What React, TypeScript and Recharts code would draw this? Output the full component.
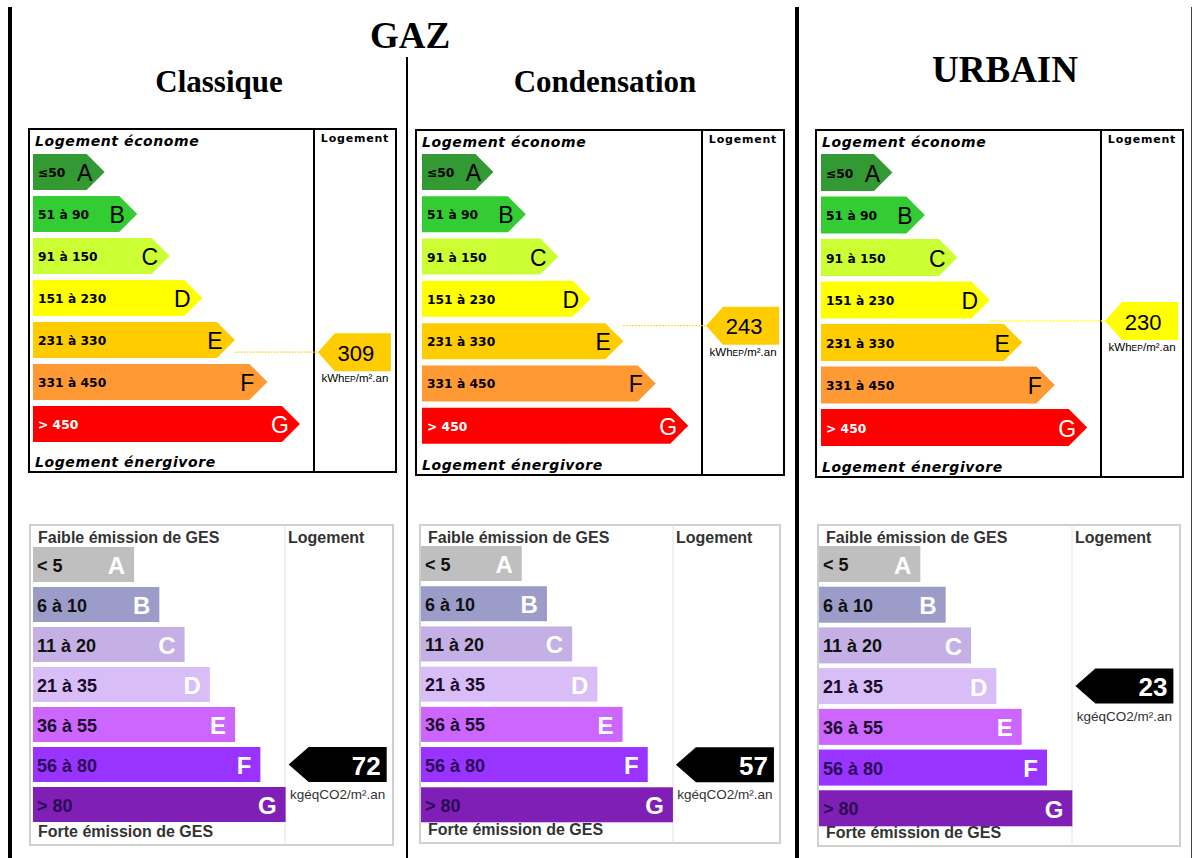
import React from 'react';
import { BarChart, Bar, XAxis, YAxis, ReferenceArea } from 'recharts';

// classes, ranges, values
const CLASSES = ['A', 'B', 'C', 'D', 'E', 'F', 'G'];
const RANKS = [1, 2, 3, 4, 5, 6, 7];
const DPE_RANGES = ['≤50', '51 à 90', '91 à 150', '151 à 230', '231 à 330', '331 à 450', '> 450'];
const DPE_UPPER = [50, 90, 150, 230, 330, 450, 600];
const GES_RANGES = ['< 5', '6 à 10', '11 à 20', '21 à 35', '36 à 55', '56 à 80', '> 80'];
const GES_UPPER = [5, 10, 20, 35, 55, 80, 120];

const GROUP_TITLE = 'GAZ';
const TITLES = ['Classique', 'Condensation', 'URBAIN'];
const DPE_VALUES = [309, 243, 230];
const GES_VALUES = [72, 57, 23];

const DPE_COLORS = ['#339933', '#33cc33', '#ccff33', '#ffff00', '#ffcc00', '#ff9933', '#ff0000'];
const GES_COLORS = ['#bfbfbf', '#9c9cc9', '#c4b0e4', '#d8bdf6', '#cc66ff', '#9933ff', '#7f1fb5'];
const GES_INK = ['#111', '#111', '#111', '#1a0a2a', '#1a0a2a', '#2a0a55', '#2a0a55'];

// axis units: x domains chosen so the arrows step like the original labels
const DPE_X: [number, number] = [-1.2, 9.95];
const GES_X: [number, number] = [-3, 11.25];
const DPE_MARKER_X = 7.55;
const GES_MARKER_X = 7.12;

const DPE_BOX = [
  { left: 29, top: 129, width: 367, height: 343, divider: 285, mTop: 22, mBottom: 27, mLeft: 4 },
  { left: 416, top: 130, width: 368, height: 345, divider: 286, mTop: 21, mBottom: 28, mLeft: 6 },
  { left: 816, top: 130, width: 367, height: 347, divider: 285, mTop: 21, mBottom: 28.5, mLeft: 5 },
];
const GES_BOX = [
  { left: 30, top: 525, width: 363, height: 320, divider: 255, mTop: 19.5, mBottom: 20.5, mLeft: 3 },
  { left: 420, top: 525, width: 360, height: 318, divider: 253, mTop: 18.5, mBottom: 18, mLeft: 1 },
  { left: 818, top: 525, width: 362, height: 321, divider: 254, mTop: 18.5, mBottom: 17.5, mLeft: 1 },
];

const SANS = '"Liberation Sans", Arial, sans-serif';
const VERD = '"DejaVu Sans", Verdana, sans-serif';
const SERIF = '"Liberation Serif", "Times New Roman", serif';

const dpeRows = CLASSES.map((cls, i) => ({ cls, rank: RANKS[i] }));
const gesRows = CLASSES.map((cls, i) => ({ cls, rank: RANKS[i] }));

function classIndex(v: number, upper: number[]) {
  const i = upper.findIndex(u => v <= u);
  return i < 0 ? upper.length - 1 : i;
}

// where the value sits inside its class band (0 = top, 1 = bottom)
function dpeFrac(v: number) {
  const i = classIndex(v, DPE_UPPER);
  const lo = i === 0 ? 0 : DPE_UPPER[i - 1];
  return (v - lo) / (DPE_UPPER[i] - lo);
}

function rowIndex(props: any) {
  const cls = props.payload?.cls ?? props.cls;
  const i = CLASSES.indexOf(cls);
  return i >= 0 ? i : props.index ?? 0;
}

function DpeArrow(props: any) {
  const { x, y, width, height } = props;
  const i = rowIndex(props);
  const tip = height / 2;
  const cy = y + height / 2;
  const ink = i === 6 ? '#fff' : '#000';
  return (
    <g>
      <polygon
        points={`${x},${y} ${x + width - tip},${y} ${x + width},${cy} ${x + width - tip},${y + height} ${x},${y + height}`}
        fill={DPE_COLORS[i]}
      />
      <text x={x + 5} y={cy + 1} dominantBaseline="central" fontFamily={VERD} fontWeight="bold" fontSize={12.3} fill={ink}>
        {DPE_RANGES[i]}
      </text>
      <text x={x + width - 20} y={cy + 1} dominantBaseline="central" textAnchor="middle" fontFamily={SANS} fontSize={23} fill={ink}>
        {CLASSES[i]}
      </text>
    </g>
  );
}

function GesBar(props: any) {
  const { x, y, width, height } = props;
  const i = rowIndex(props);
  const cy = y + height / 2;
  return (
    <g>
      <rect x={x} y={y} width={width} height={height} fill={GES_COLORS[i]} />
      <text x={x + 4} y={cy + 1} dominantBaseline="central" fontFamily={SANS} fontWeight="bold" fontSize={18} fill={GES_INK[i]}>
        {GES_RANGES[i]}
      </text>
      <text x={x + width - 9} y={cy + 1} dominantBaseline="central" textAnchor="end" fontFamily={SANS} fontWeight="bold" fontSize={24} fill="#fff">
        {CLASSES[i]}
      </text>
    </g>
  );
}

// area spans the class band from the arrow tip to the marker tip
const dpeMarker = (value: number, color: string, frac: number) => (p: any) => {
  const x1 = p.x;
  const x2 = p.x + p.width;
  const y = p.y + frac * p.height;
  return (
    <g>
      <line x1={x1} y1={y} x2={x2} y2={y} stroke={color} strokeWidth={1.3} strokeDasharray="1.5 1.5" />
      <polygon
        points={`${x2},${y} ${x2 + 17},${y - 19} ${x2 + 73},${y - 19} ${x2 + 73},${y + 19} ${x2 + 17},${y + 19}`}
        fill={color}
      />
      <text x={x2 + 38} y={y + 1} dominantBaseline="central" textAnchor="middle" fontFamily={SANS} fontSize={22} fill="#000">
        {value}
      </text>
      <text x={x2 + 37} y={y + 30} textAnchor="middle" fontFamily={SANS} fontSize={11.5} fill="#000">
        kWh<tspan fontSize={8.5}>EP</tspan>/m².an
      </text>
    </g>
  );
};

const gesMarker = (value: number) => (p: any) => {
  const cx = p.x;
  const cy = p.y + p.height / 2;
  return (
    <g>
      <polygon
        points={`${cx},${cy} ${cx + 20},${cy - 17.5} ${cx + 98},${cy - 17.5} ${cx + 98},${cy + 17.5} ${cx + 20},${cy + 17.5}`}
        fill="#000"
      />
      <text x={cx + 92} y={cy + 1} dominantBaseline="central" textAnchor="end" fontFamily={SANS} fontWeight="bold" fontSize={26} fill="#fff">
        {value}
      </text>
      <text x={cx + 49} y={cy + 34.5} textAnchor="middle" fontFamily={SANS} fontSize={13.5} fill="#333">
        kgéqCO2/m².an
      </text>
    </g>
  );
};

function DpeChart({ k }: { k: number }) {
  const b = DPE_BOX[k];
  const v = DPE_VALUES[k];
  const ci = classIndex(v, DPE_UPPER);
  return (
    <div style={{ position: 'absolute', left: b.left, top: b.top }}>
      <BarChart
        width={b.width}
        height={b.height}
        data={dpeRows}
        layout="vertical"
        margin={{ top: b.mTop, right: 0, bottom: b.mBottom, left: b.mLeft }}
        barCategoryGap={3}
      >
        <XAxis type="number" domain={DPE_X} allowDataOverflow hide />
        <YAxis type="category" dataKey="cls" hide />
        <Bar dataKey={(d: any) => [DPE_X[0], d.rank]} shape={DpeArrow} isAnimationActive={false} />
        <ReferenceArea
          y1={CLASSES[ci]}
          y2={CLASSES[ci]}
          x1={RANKS[ci]}
          x2={DPE_MARKER_X}
          shape={dpeMarker(v, DPE_COLORS[ci], dpeFrac(v))}
        />
      </BarChart>
    </div>
  );
}

function GesChart({ k }: { k: number }) {
  const b = GES_BOX[k];
  const v = GES_VALUES[k];
  const ci = classIndex(v, GES_UPPER);
  return (
    <div style={{ position: 'absolute', left: b.left, top: b.top }}>
      <BarChart
        width={b.width}
        height={b.height}
        data={gesRows}
        layout="vertical"
        margin={{ top: b.mTop, right: 0, bottom: b.mBottom, left: b.mLeft }}
        barCategoryGap={2.5}
      >
        <XAxis type="number" domain={GES_X} allowDataOverflow hide />
        <YAxis type="category" dataKey="cls" hide />
        <Bar dataKey={(d: any) => [GES_X[0], d.rank]} shape={GesBar} isAnimationActive={false} />
        <ReferenceArea
          y1={CLASSES[ci]}
          y2={CLASSES[ci]}
          x1={GES_MARKER_X}
          x2={GES_X[1]}
          shape={gesMarker(v)}
        />
      </BarChart>
    </div>
  );
}

function Frames() {
  return (
    <svg width={1195} height={858} style={{ position: 'absolute', left: 0, top: 0 }}>
      {/* page rules */}
      <rect x={8} y={7} width={4} height={851} fill="#000" />
      <rect x={406} y={57} width={2} height={801} fill="#000" />
      <rect x={795} y={7} width={4} height={851} fill="#000" />
      <rect x={1191} y={7} width={1} height={851} fill="#444" />

      <text x={410} y={48} textAnchor="middle" fontFamily={SERIF} fontWeight="bold" fontSize={37}>{GROUP_TITLE}</text>
      <text x={219} y={92} textAnchor="middle" fontFamily={SERIF} fontWeight="bold" fontSize={31}>{TITLES[0]}</text>
      <text x={605} y={92} textAnchor="middle" fontFamily={SERIF} fontWeight="bold" fontSize={31}>{TITLES[1]}</text>
      <text x={1005} y={82} textAnchor="middle" fontFamily={SERIF} fontWeight="bold" fontSize={37}>{TITLES[2]}</text>

      {DPE_BOX.map((b, i) => (
        <g key={`d${i}`}>
          <rect x={b.left} y={b.top} width={b.width} height={b.height} fill="none" stroke="#000" strokeWidth={2} />
          <line x1={b.left + b.divider} y1={b.top} x2={b.left + b.divider} y2={b.top + b.height} stroke="#000" strokeWidth={2} />
          <text x={b.left + 6} y={b.top + 17} fontFamily={VERD} fontWeight="bold" fontStyle="italic" fontSize={14} letterSpacing={0.6}>
            Logement économe
          </text>
          <text x={b.left + 6} y={b.top + b.height - 5} fontFamily={VERD} fontWeight="bold" fontStyle="italic" fontSize={14} letterSpacing={0.6}>
            Logement énergivore
          </text>
          <text x={b.left + (b.divider + b.width) / 2} y={b.top + 13} textAnchor="middle" fontFamily={VERD} fontWeight="bold" fontSize={11} letterSpacing={0.8}>
            Logement
          </text>
        </g>
      ))}

      {GES_BOX.map((b, i) => (
        <g key={`g${i}`}>
          <rect x={b.left} y={b.top} width={b.width} height={b.height} fill="none" stroke="#cfcfcf" strokeWidth={2} />
          <line x1={b.left + b.divider} y1={b.top} x2={b.left + b.divider} y2={b.top + b.height} stroke="#e2e2e2" strokeWidth={1} />
          <text x={b.left + 8} y={b.top + 18} fontFamily={SANS} fontWeight="bold" fontSize={16} fill="#333">
            Faible émission de GES
          </text>
          <text x={b.left + 8} y={b.top + b.height - 8} fontFamily={SANS} fontWeight="bold" fontSize={16} fill="#333">
            Forte émission de GES
          </text>
          <text x={b.left + b.divider + 3} y={b.top + 18} fontFamily={SANS} fontWeight="bold" fontSize={16} fill="#333">
            Logement
          </text>
        </g>
      ))}
    </svg>
  );
}

export default function App() {
  return (
    <div style={{ position: 'absolute', left: 0, top: 0, width: 1195, height: 858, background: '#fff' }}>
      <Frames />
      {[0, 1, 2].map(k => <DpeChart key={`dpe${k}`} k={k} />)}
      {[0, 1, 2].map(k => <GesChart key={`ges${k}`} k={k} />)}
    </div>
  );
}
